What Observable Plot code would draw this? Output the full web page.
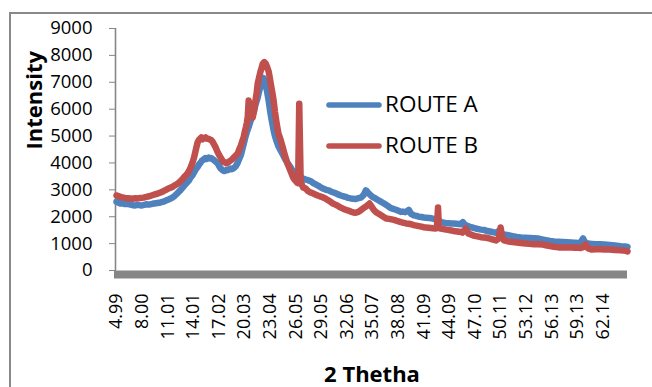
<!DOCTYPE html>
<html><head><meta charset="utf-8">
<script src="https://cdn.jsdelivr.net/npm/d3@7"></script>
<script src="https://cdn.jsdelivr.net/npm/@observablehq/plot@0.6"></script>
<style>
body{margin:0;background:#fff;}
#wrap{position:relative;width:652px;height:387px;overflow:hidden;font-family:"Open Sans",sans-serif;background:#fff;}
#border{position:absolute;left:9px;top:12px;width:700px;height:500px;border:2px solid #898989;box-sizing:border-box;}
#chart{position:absolute;left:0;top:0;}
#legend{position:absolute;left:322px;top:84px;}
.li{display:flex;align-items:center;height:41px;}
.li span{font-size:22.5px;color:#000;margin-left:1px;line-height:1;}
</style></head><body>
<div id="wrap"><div id="border"></div><div id="chart"></div><div id="legend"></div></div>
<script>
const seriesNames = ["ROUTE A", "ROUTE B"];
const seriesColors = ["#4F81BD", "#C0504D"];

const thetaA = [4.99,5.2,5.46,5.7,6.0,6.3,6.64,6.9,7.2,7.5,7.81,8.1,8.5,8.8,9.2,9.6,10.16,10.5,10.8,11.1,11.5,11.8,12.16,12.5,12.8,13.0,13.3,13.5,13.69,13.9,14.1,14.3,14.51,14.7,14.87,15.0,15.2,15.3,15.45,15.6,15.81,15.95,16.1,16.25,16.39,16.6,16.87,17.05,17.22,17.35,17.5,17.65,17.81,17.9,18.04,18.2,18.39,18.55,18.75,19.0,19.22,19.4,19.6,19.75,19.92,20.1,20.3,20.5,20.75,20.9,21.1,21.3,21.57,21.75,21.9,22.05,22.16,22.27,22.45,22.65,22.86,23.0,23.1,23.3,23.45,23.6,23.8,24.0,24.27,24.5,24.7,24.9,25.1,25.3,25.5,25.65,25.8,26.0,26.27,26.45,26.62,26.9,27.2,27.5,27.8,28.1,28.4,28.7,28.98,29.3,29.6,29.9,30.15,30.4,30.7,31.0,31.33,31.6,31.9,32.2,32.5,32.8,33.1,33.4,33.68,33.85,34.0,34.15,34.27,34.4,34.5,34.7,34.86,35.1,35.4,35.7,36.03,36.3,36.6,36.9,37.21,37.5,37.8,38.1,38.38,38.6,38.9,39.1,39.32,39.45,39.6,39.75,39.91,40.2,40.5,40.8,41.09,41.4,41.7,42.0,42.26,42.6,42.9,43.09,43.4,43.7,44.0,44.26,44.6,44.9,45.2,45.44,45.67,45.9,46.2,46.61,46.9,47.2,47.5,47.79,48.14,48.4,48.7,49.0,49.32,49.6,49.9,50.2,50.49,51.0,51.5,52.0,52.49,53.0,53.5,54.0,54.49,55.0,55.4,55.9,56.37,56.9,57.4,57.9,58.37,58.8,59.2,59.45,59.6,59.78,59.95,60.15,60.37,60.8,61.3,61.8,62.25,62.9,63.5,64.2,64.84,65.0];
const intensityA = [2560,2530,2490,2500,2470,2480,2450,2430,2420,2440,2420,2430,2460,2450,2480,2500,2530,2560,2600,2640,2700,2770,2880,2990,3100,3180,3280,3350,3460,3540,3650,3760,3850,3950,4010,4080,4120,4160,4180,4150,4200,4170,4180,4150,4120,4060,3980,3880,3800,3760,3720,3700,3720,3740,3730,3760,3790,3770,3800,3880,4000,4150,4300,4480,4700,4930,5150,5330,5580,5720,5900,6150,6430,6680,6850,7000,7100,7150,7000,6700,6320,6000,5800,5450,5200,5000,4800,4620,4460,4330,4200,4090,3980,3900,3800,3720,3660,3580,3500,3480,3460,3420,3380,3360,3320,3250,3200,3150,3090,3040,3000,2980,2940,2910,2880,2830,2790,2760,2740,2700,2680,2670,2660,2690,2710,2760,2800,2900,2980,2950,2900,2840,2790,2730,2680,2620,2560,2510,2450,2390,2320,2290,2260,2220,2180,2190,2170,2200,2250,2180,2100,2080,2050,2030,2000,1990,1970,1960,1950,1940,1920,1900,1850,1800,1780,1760,1760,1750,1750,1740,1730,1720,1800,1700,1660,1610,1590,1560,1540,1520,1510,1480,1460,1440,1420,1400,1480,1360,1340,1310,1280,1250,1230,1220,1210,1200,1190,1150,1130,1100,1080,1070,1060,1050,1040,1030,1020,1040,1100,1190,1080,1020,1000,990,980,975,970,950,930,900,890,880];

const thetaB = [4.99,5.2,5.46,5.7,6.0,6.3,6.64,6.9,7.2,7.5,7.81,8.16,8.5,8.8,9.1,9.5,9.8,10.16,10.5,10.8,11.1,11.5,11.8,12.16,12.5,12.8,13.0,13.3,13.5,13.69,13.9,14.1,14.3,14.51,14.65,14.8,14.95,15.1,15.3,15.45,15.6,15.8,15.95,16.1,16.25,16.39,16.6,16.8,17.0,17.22,17.35,17.5,17.65,17.81,17.9,18.04,18.2,18.39,18.55,18.75,19.0,19.22,19.4,19.6,19.75,19.92,20.05,20.2,20.3,20.4,20.51,20.65,20.8,20.98,21.15,21.3,21.45,21.57,21.75,21.9,22.05,22.16,22.35,22.51,22.7,22.86,23.0,23.1,23.3,23.45,23.6,23.8,24.0,24.27,24.5,24.7,24.9,25.1,25.3,25.5,25.65,25.8,26.0,26.2,26.32,26.45,26.62,26.9,27.2,27.5,27.8,28.1,28.4,28.7,28.98,29.3,29.6,29.9,30.15,30.4,30.7,31.0,31.33,31.6,31.9,32.2,32.5,32.8,33.1,33.4,33.68,33.9,34.1,34.3,34.5,34.7,34.86,35.0,35.21,35.5,35.8,36.1,36.38,36.7,37.0,37.3,37.56,37.8,38.1,38.4,38.73,39.0,39.3,39.6,39.91,40.2,40.5,40.8,41.09,41.35,41.6,41.9,42.14,42.45,42.61,42.75,42.85,43.1,43.4,43.7,43.91,44.3,44.6,45.0,45.44,45.6,45.79,46.0,46.3,46.61,46.9,47.2,47.5,47.79,48.14,48.4,48.7,49.0,49.32,49.55,49.7,49.9,50.1,50.3,50.49,51.0,51.5,52.0,52.49,53.0,53.5,54.0,54.49,55.0,55.4,55.9,56.37,56.9,57.4,57.9,58.37,58.8,59.2,59.5,59.78,60.1,60.37,60.8,61.3,61.8,62.25,62.9,63.5,64.2,64.84,65.0];
const intensityB = [2790,2770,2740,2720,2700,2690,2680,2670,2690,2680,2700,2710,2740,2760,2790,2830,2860,2900,2950,3000,3050,3100,3160,3230,3320,3420,3500,3600,3700,3830,4000,4200,4480,4760,4850,4900,4950,4880,4930,4950,4900,4900,4870,4850,4800,4720,4600,4450,4320,4200,4130,4050,4030,4010,3990,4010,4050,4090,4130,4200,4280,4350,4500,4650,4800,4950,5150,5350,5500,5700,6320,6000,5800,5690,5950,6300,6600,6950,7200,7400,7550,7690,7750,7700,7550,7400,7150,6950,6600,6300,5900,5460,5100,4850,4600,4350,4150,3950,3800,3640,3520,3420,3340,3270,3250,6200,3300,3090,3050,2950,2900,2860,2820,2780,2750,2710,2660,2600,2550,2490,2450,2400,2340,2300,2260,2230,2190,2160,2150,2180,2240,2300,2340,2380,2430,2490,2420,2350,2250,2160,2110,2050,1990,1930,1920,1900,1880,1860,1830,1800,1770,1750,1740,1720,1690,1670,1650,1630,1610,1600,1590,1580,1570,1560,1580,2340,1580,1560,1540,1520,1510,1490,1470,1450,1430,1410,1480,1560,1380,1340,1300,1280,1260,1240,1230,1220,1200,1170,1140,1120,1150,1200,1600,1200,1120,1080,1060,1040,1020,1000,990,980,975,970,940,910,880,860,860,860,855,850,845,840,870,970,820,780,790,790,785,780,760,750,730,710,720];

const xTicks = [4.99,8.00,11.01,14.01,17.02,20.03,23.04,26.05,29.05,32.06,35.07,38.08,41.09,44.09,47.10,50.11,53.12,56.13,59.13,62.14];
const yTicks = [0,1000,2000,3000,4000,5000,6000,7000,8000,9000];
const xTitle = "2 Thetha";
const yTitle = "Intensity";

const rows = [
  ...thetaA.map((t, i) => ({theta: t, intensity: intensityA[i], series: seriesNames[0]})),
  ...thetaB.map((t, i) => ({theta: t, intensity: intensityB[i], series: seriesNames[1]}))
];

const chart = Plot.plot({
  width: 652, height: 387,
  marginLeft: 116, marginRight: 25, marginTop: 28, marginBottom: 117,
  style: {fontFamily: "Open Sans", fontSize: "18.5px", color: "#000", background: "transparent", overflow: "visible"},
  x: {domain: [4.99, 65.0]},
  y: {domain: [0, 9000]},
  color: {domain: seriesNames, range: seriesColors},
  marks: [
    Plot.ruleX([4.99], {stroke: "#868686", strokeWidth: 1.6, dx: -1}),
    Plot.axisY({ticks: yTicks, tickSize: 7, tickPadding: 17, stroke: "#868686", fill: "#000", label: null, fontSize: 18.5, tickFormat: d => String(d)}),
    Plot.axisX({ticks: xTicks, tickSize: 0, tickPadding: 23, tickRotate: -90, fontSize: 18, tickFormat: d3.format(".2f"), label: null, fill: "#000"}),
    Plot.ruleY([0], {stroke: "#868686", strokeWidth: 8, dy: 4, insetLeft: -2}),
    Plot.line(rows, {x: "theta", y: "intensity", z: "series", stroke: "series", strokeWidth: 6.5, strokeLinejoin: "round", strokeLinecap: "round"}),
    Plot.text([yTitle], {frameAnchor: "left", rotate: -90, dx: -82, fontSize: 22, fontWeight: "bold", fill: "#000"}),
    Plot.text([xTitle], {frameAnchor: "bottom", dy: 111, fontSize: 22, fontWeight: "bold", fill: "#000"})
  ]
});
document.getElementById("chart").appendChild(chart);

const legend = document.getElementById("legend");
seriesNames.forEach((name, i) => {
  const d = document.createElement("div");
  d.className = "li";
  d.innerHTML = `<svg width="62" height="10"><line x1="7" y1="5" x2="57" y2="5" stroke="${seriesColors[i]}" stroke-width="5.5" stroke-linecap="round"/></svg><span>${name}</span>`;
  legend.appendChild(d);
});
</script>
</body></html>
